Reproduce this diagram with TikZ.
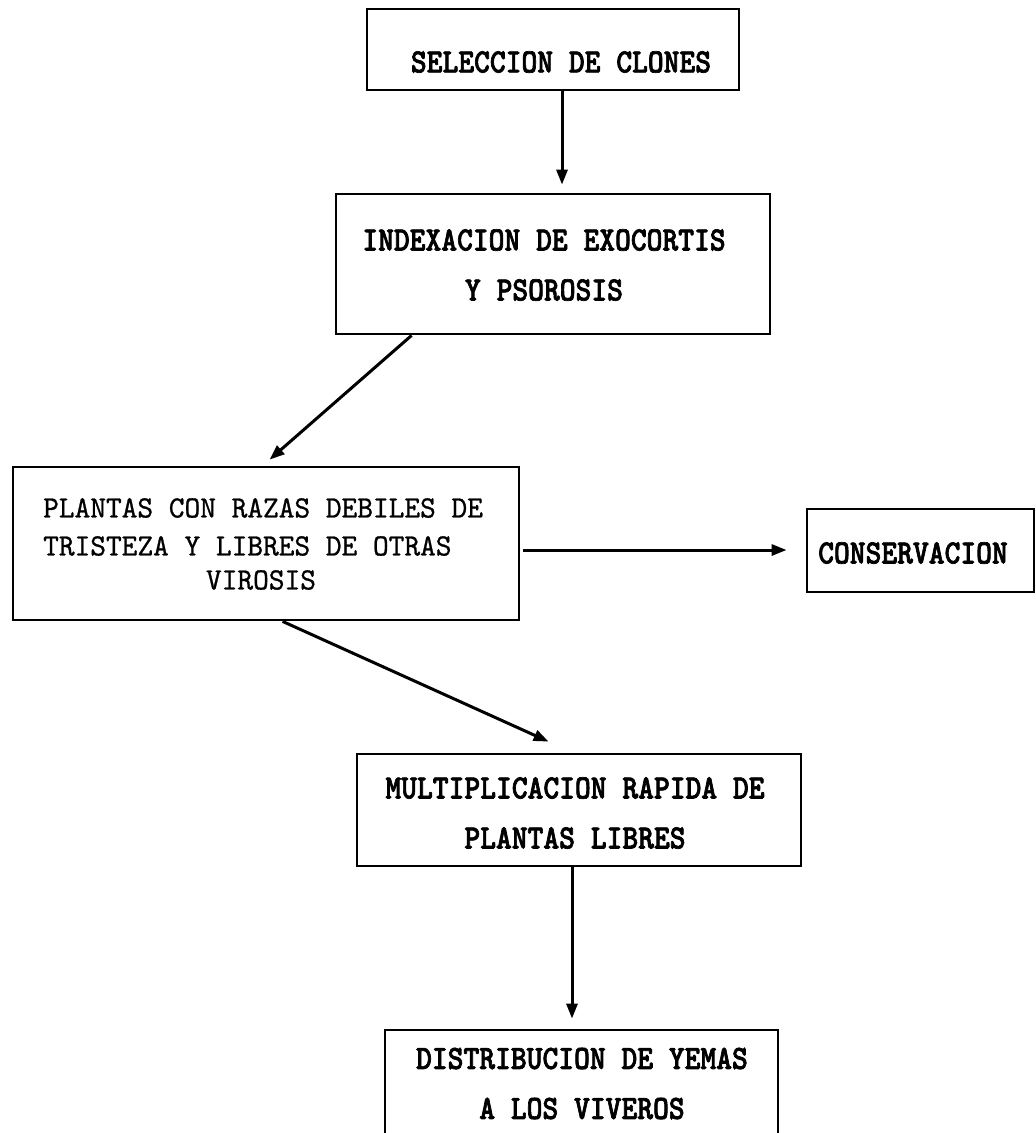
\documentclass[tikz,border=0pt]{standalone}
\usepackage{fontspec}
\usetikzlibrary{arrows.meta,calc}
\newfontfamily\twbox[Extension=.otf,FakeStretch=0.885,FakeBold=2]{lmmonolt10-bold}
\newfontfamily\twlight[Extension=.otf,FakeStretch=0.965,FakeBold=0.8]{lmmono10-regular}
\begin{document}
\begin{tikzpicture}[x=1pt,y=-1pt,
  boxe/.style={draw, line width=2.8pt, rectangle, inner sep=0pt},
  lbl/.style={inner sep=0pt, align=center, font=\twbox\fontsize{34}{50}\selectfont},
  lbllight/.style={inner sep=0pt, anchor=west, font=\twlight\fontsize{31}{36}\selectfont},
  conn/.style={line width=3pt, -{Triangle[length=15pt,width=11pt]}}]
\useasboundingbox (0,0) rectangle (1036,1133);
\clip (0,0) rectangle (1036,1133);
% boxes
\node[boxe, minimum width=372pt, minimum height=81pt]  (box1) at (553,49.5) {};
\node[boxe, minimum width=434pt, minimum height=140pt] (box2) at (553,264) {};
\node[boxe, minimum width=506pt, minimum height=153pt] (box3) at (266,543.5) {};
\node[boxe, minimum width=227pt, minimum height=83pt]  (box4) at (920.5,550.5) {};
\node[boxe, minimum width=444pt, minimum height=112pt] (box5) at (579,810) {};
\node[boxe, minimum width=393pt, minimum height=112pt] (box6) at (581.5,1086) {};
% texts
\node[lbl] (t1) at (561,62) {SELECCION DE CLONES};
\node[lbl] (t2) at (544,265) {INDEXACION DE EXOCORTIS\\Y PSOROSIS};
\node[lbllight] (t3a) at (43,508) {PLANTAS CON RAZAS DEBILES DE};
\node[lbllight] (t3b) at (43,546) {TRISTEZA Y LIBRES DE OTRAS};
\node[lbllight, anchor=center] (t3c) at (261,580) {VIROSIS};
\node[lbl] (t4) at (913,553) {CONSERVACION};
\node[lbl] (t5) at (575,813) {MULTIPLICACION RAPIDA DE\\PLANTAS LIBRES};
\node[lbl] (t6) at (582,1083.5) {DISTRIBUCION DE YEMAS\\A LOS VIVEROS};
% connectors
\draw[conn] ($(box1.south)+(9,0)$) -- ($(box2.north)+(9,-8)$);
\draw[conn] ($(box2.south west)+(77,0)$) -- ($(box3.north west)+(258,-6)$);
\draw[conn] ($(box3.east)+(3,6.5)$) -- ($(box4.west)+(-19,-0.5)$);
\draw[conn] ($(box3.south west)+(271,0)$) -- ($(box5.north west)+(193,-11)$);
\draw[conn] ($(box5.south)+(-7,0)$) -- ($(box6.north)+(-9.5,-10)$);
\end{tikzpicture}
\end{document}
